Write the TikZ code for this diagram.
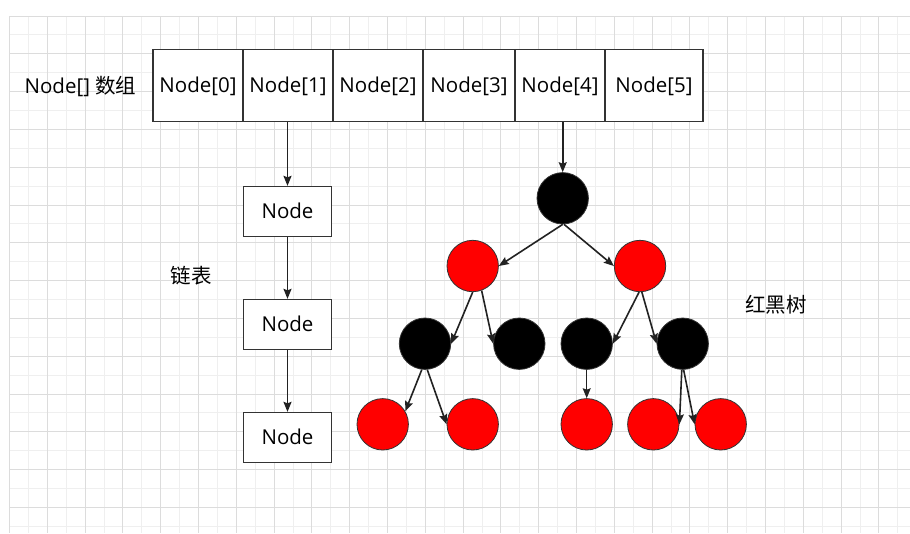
\documentclass[tikz,border=0pt]{standalone}
\usepackage{fontspec}
\setmainfont{Open Sans}
\newfontfamily\cjk{Noto Sans CJK SC}
\usetikzlibrary{arrows.meta}
\definecolor{gridminor}{HTML}{EFEFEF}
\definecolor{gridmajor}{HTML}{DCDCDC}
\definecolor{edgegray}{HTML}{333333}
\definecolor{arrowcol}{HTML}{222222}
\definecolor{rbred}{HTML}{FF0000}
\tikzset{
  txt/.style={inner sep=0pt, font=\fontsize{20.5}{24}\selectfont},
  boxtext/.style={inner sep=0pt, text height=17.5pt, text depth=3pt, font=\fontsize{20.5}{24}\selectfont},
  arrbox/.style={boxtext, draw=edgegray, line width=1.3pt, fill=white, minimum height=72pt},
  listbox/.style={boxtext, draw=edgegray, line width=1.3pt, fill=white, minimum width=88pt, minimum height=50pt},
  rbnode/.style={circle, draw=edgegray, line width=0.8pt, minimum size=51.4pt, inner sep=0pt},
  blacknode/.style={rbnode, fill=black},
  rednode/.style={rbnode, fill=rbred},
  link/.style={draw=arrowcol, line width=1.6pt, -{Stealth[length=10pt,width=8pt,inset=1.5pt]}}
}
\begin{document}
\begin{tikzpicture}[x=1pt,y=-1pt]
\useasboundingbox (0,0) rectangle (910,533);
\fill[white] (0,0) rectangle (910,533);
% grid
\foreach \i in {0,...,47} {
  \pgfmathsetmacro\xx{9.5+18.9*\i}
  \ifodd\i \draw[gridminor, line width=0.9pt] (\xx,16) -- (\xx,533); \fi
}
\foreach \i in {0,...,27} {
  \pgfmathsetmacro\yy{16+18.9*\i}
  \ifodd\i \draw[gridminor, line width=0.9pt] (9.5,\yy) -- (910,\yy); \fi
}
\foreach \i in {0,2,...,46} {
  \pgfmathsetmacro\xx{9.5+18.9*\i}
  \draw[gridmajor, line width=0.9pt] (\xx,16) -- (\xx,533);
}
\foreach \i in {0,2,...,26} {
  \pgfmathsetmacro\yy{16+18.9*\i}
  \draw[gridmajor, line width=0.9pt] (9.5,\yy) -- (910,\yy);
}
% array
\node[arrbox, minimum width=90pt] (a0) at (198,85.5) {Node[0]};
\node[arrbox, minimum width=90pt] (a1) at (288,85.5) {Node[1]};
\node[arrbox, minimum width=90pt] (a2) at (378,85.5) {Node[2]};
\node[arrbox, minimum width=92pt] (a3) at (469,85.5) {Node[3]};
\node[arrbox, minimum width=90pt] (a4) at (560,85.5) {Node[4]};
\node[arrbox, minimum width=98pt] (a5) at (654,85.5) {Node[5]};
\node[txt, anchor=base] (lblarr) at (80.5,93.5) {Node[] {\cjk 数组}};
% linked list
\node[listbox] (l1) at (287.5,211.5) {Node};
\node[listbox] (l2) at (287.5,324.5) {Node};
\node[listbox] (l3) at (287.5,437.5) {Node};
\node[txt] (lbllist) at (191,276) {\cjk 链表};
\draw[link] (l1.north |- a1.south) -- (l1.north);
\draw[link] (l1.south) -- (l2.north);
\draw[link] (l2.south) -- (l3.north);
% red-black tree
\node[blacknode] (r) at (562.7,198.3) {};
\node[rednode] (p1) at (472.7,266) {};
\node[rednode] (p2) at (640,266) {};
\node[blacknode] (b1) at (425,343.7) {};
\node[blacknode] (b2) at (519.3,343.7) {};
\node[blacknode] (b3) at (586.7,343.7) {};
\node[blacknode] (b4) at (682.7,343.7) {};
\node[rednode] (q1) at (382.7,424.3) {};
\node[rednode] (q2) at (472.7,424.3) {};
\node[rednode] (q3) at (586.7,424.3) {};
\node[rednode] (q4) at (653.3,424.3) {};
\node[rednode] (q5) at (720.7,424.3) {};
\node[txt] (lbltree) at (776,305) {\cjk 红黑树};
\draw[link] (r.north |- a4.south) -- (r.north);
\draw[link] (r.south) -- (p1.east);
\draw[link] (r.-87) -- (p2.west);
\draw[link] (p1.south) -- (b1.east);
\draw[link] (p1.-70) -- (b2.west);
\draw[link] (p2.-92) -- (b3.east);
\draw[link] (p2.-86) -- (b4.west);
\draw[link] (b1.-97) -- (q1.30);
\draw[link] (b1.-85) -- (q2.west);
\draw[link, line width=1.1pt] (b3.south) -- (q3.north);
\draw[link] (b4.-92) -- (q4.east);
\draw[link] (b4.-88) -- (q5.west);
\end{tikzpicture}
\end{document}
